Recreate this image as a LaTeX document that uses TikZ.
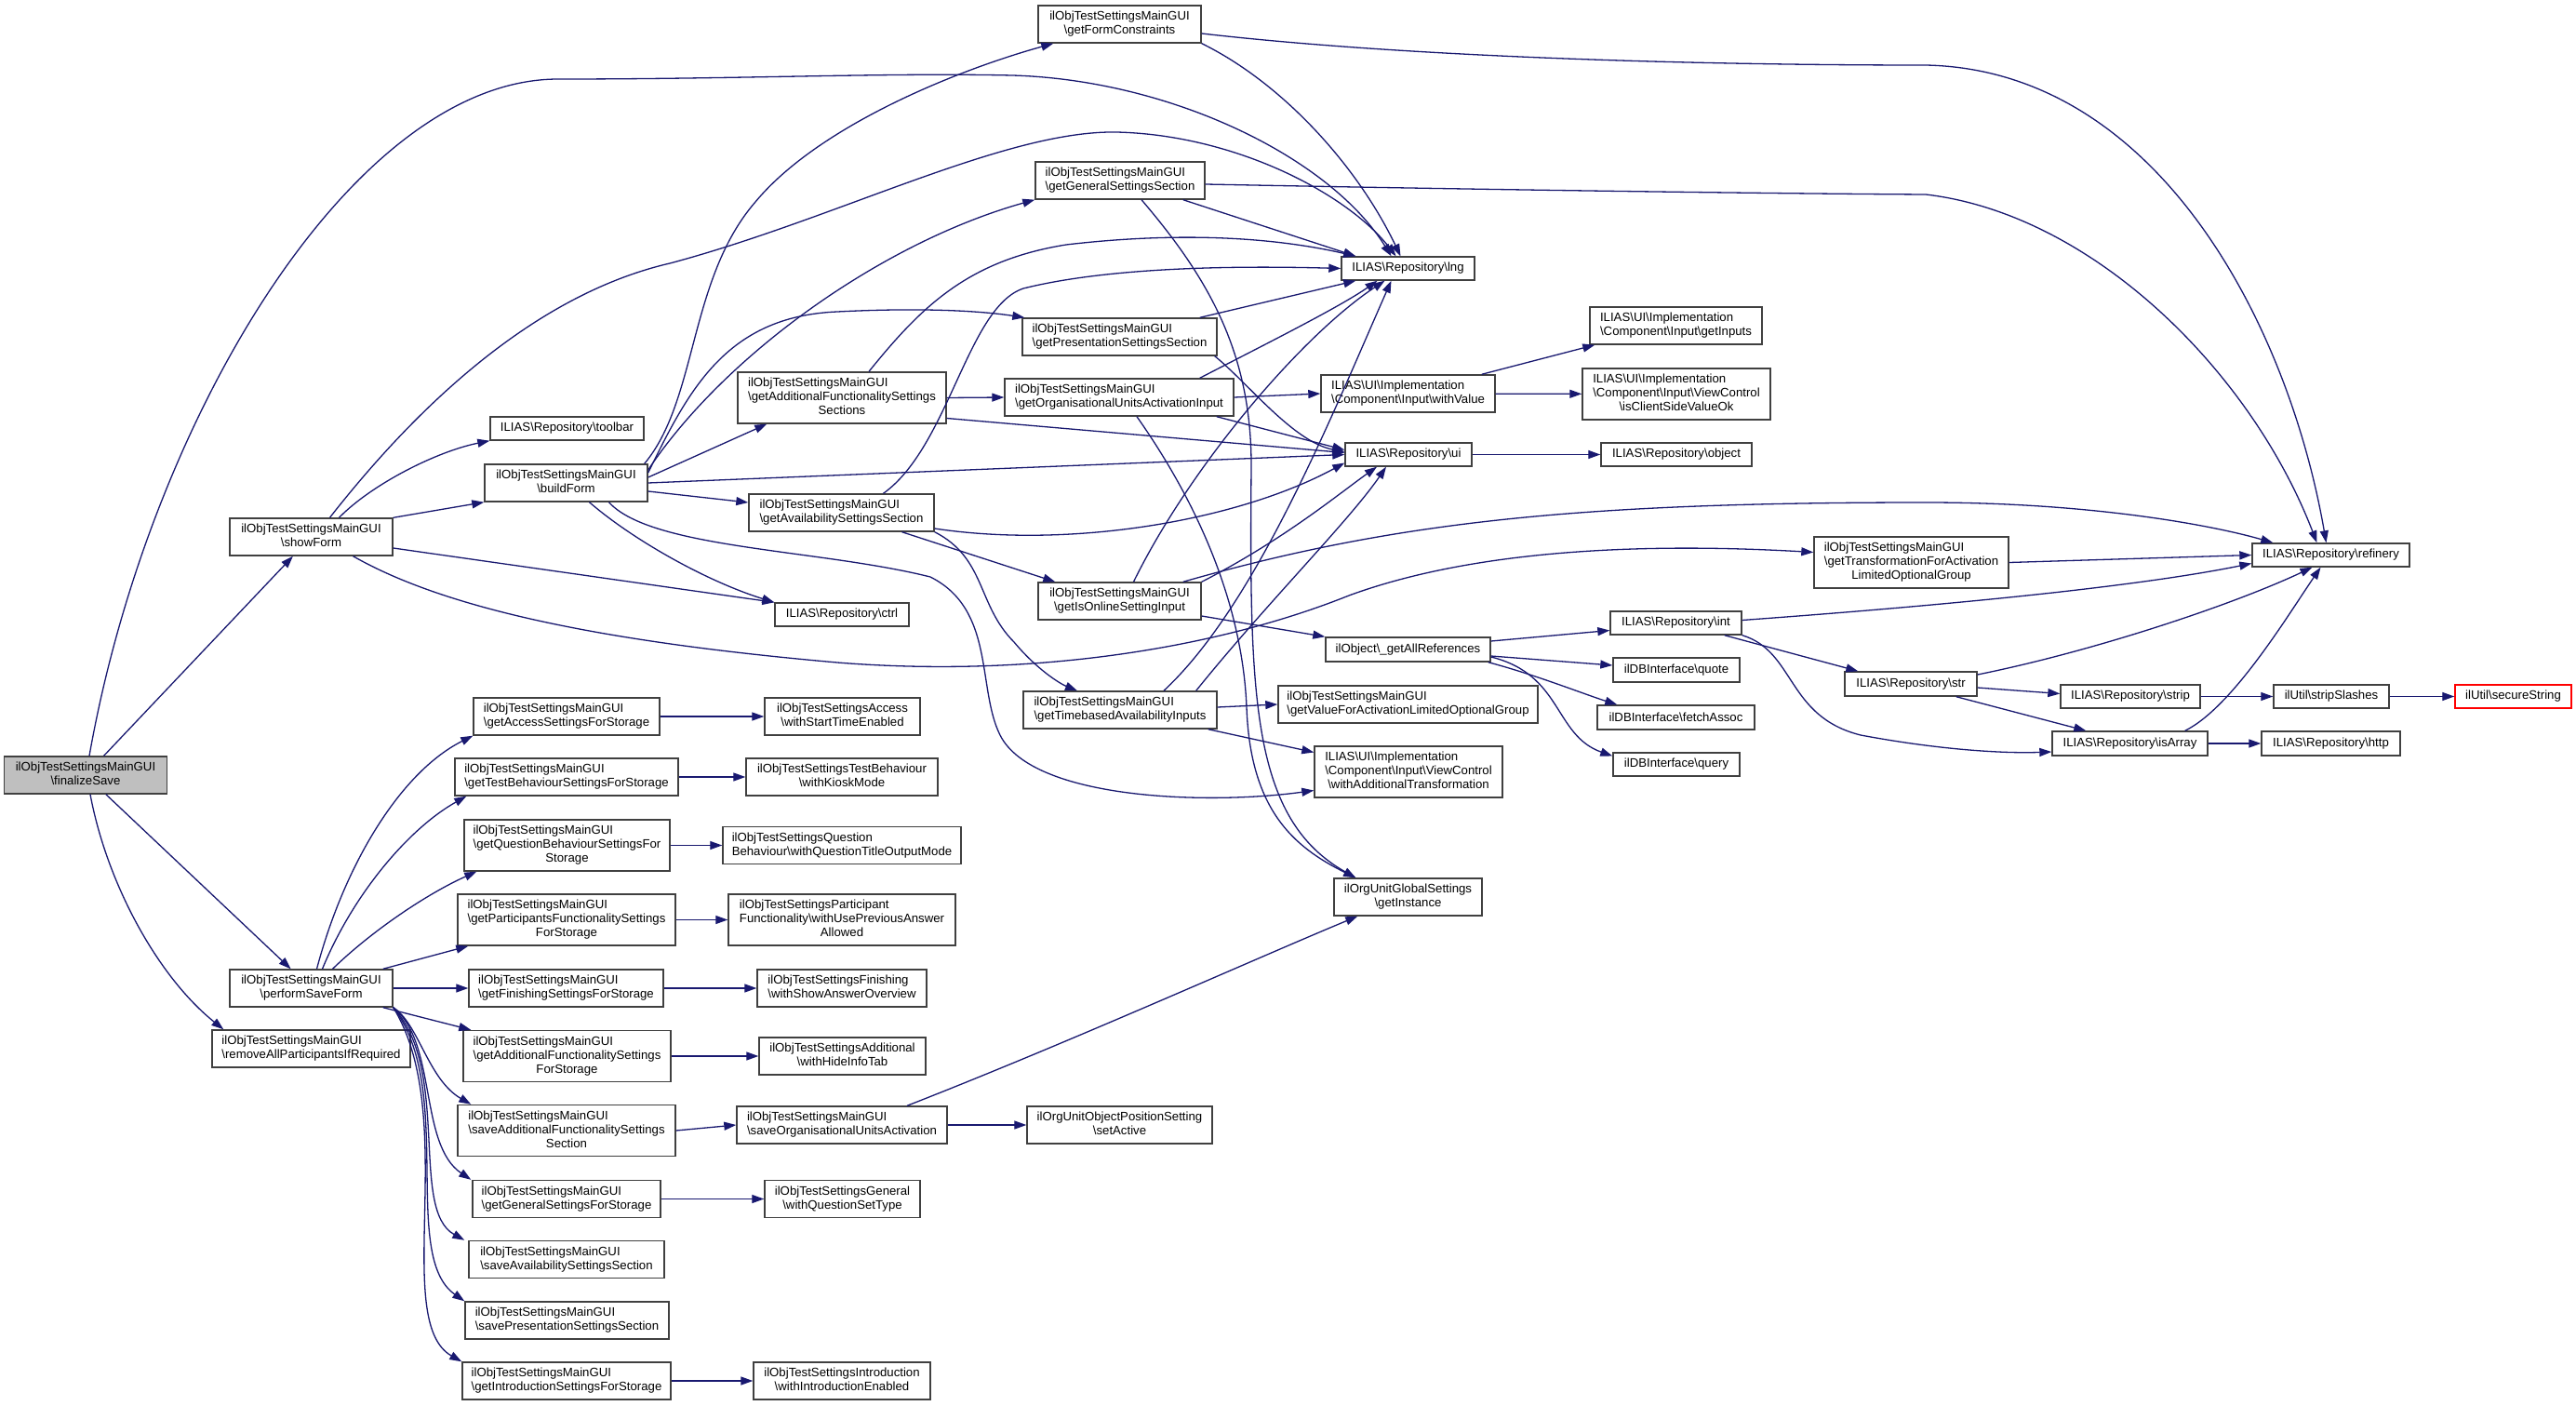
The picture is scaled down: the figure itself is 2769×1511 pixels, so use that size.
\documentclass[tikz,border=0pt]{standalone}
\usepackage{fontspec}
\setmainfont{Liberation Sans}
\usetikzlibrary{arrows.meta}

\definecolor{edgeblue}{RGB}{25,25,112}
\definecolor{boxgray}{RGB}{64,64,64}
\newcommand{\bsl}{\textbackslash}
\newcommand{\fnlabel}[2]{\begin{tabular}{@{}l@{}}#1\\\multicolumn{1}{@{}c@{}}{#2}\end{tabular}}

\begin{document}
\begin{tikzpicture}[x=1pt,y=-1pt,
    fnbox/.style={draw=boxgray,line width=1.4pt,fill=white,inner sep=0pt,font=\fontsize{13.2}{15}\selectfont},
    call/.style={draw=edgeblue,line width=1.3pt,->,>={Triangle[length=13pt,width=9pt]}}]

  \fill [white] (0,0) rectangle (2769,1511);
  \useasboundingbox (0,0) rectangle (2769,1511);

  % callers on the left
  \node [fnbox,fill=black!25,minimum width=175,minimum height=40] (finalizeSave) at (92,833) {\fnlabel{ilObjTestSettingsMainGUI}{\bsl finalizeSave}};
  \node [fnbox,minimum width=175,minimum height=40] (showForm) at (334.5,577) {\fnlabel{ilObjTestSettingsMainGUI}{\bsl showForm}};
  \node [fnbox,minimum width=175,minimum height=40] (performSaveForm) at (334.5,1062) {\fnlabel{ilObjTestSettingsMainGUI}{\bsl performSaveForm}};
  \node [fnbox,minimum width=213,minimum height=40] (removeAll) at (334.5,1127) {\fnlabel{ilObjTestSettingsMainGUI}{\bsl removeAllParticipantsIfRequired}};

  % form building
  \node [fnbox,minimum width=175,minimum height=40] (buildForm) at (608.5,519) {\fnlabel{ilObjTestSettingsMainGUI}{\bsl buildForm}};
  \node [fnbox,minimum width=165,minimum height=25] (toolbar) at (609.5,460.5) {ILIAS\bsl Repository\bsl toolbar};
  \node [fnbox,minimum width=144,minimum height=25] (ctrl) at (905,660.5) {ILIAS\bsl Repository\bsl ctrl};
  \node [fnbox,minimum width=175,minimum height=40] (getFormConstraints) at (1203.5,26) {\fnlabel{ilObjTestSettingsMainGUI}{\bsl getFormConstraints}};
  \node [fnbox,minimum width=182,minimum height=40] (getGeneralSS) at (1204,194) {\fnlabel{ilObjTestSettingsMainGUI}{\bsl getGeneralSettingsSection}};
  \node [fnbox,minimum width=209,minimum height=40] (getPresentationSS) at (1203.5,362) {\fnlabel{ilObjTestSettingsMainGUI}{\bsl getPresentationSettingsSection}};
  \node [fnbox,minimum width=224,minimum height=55] (getAddFuncSections) at (905,427.5) {\fnlabel{ilObjTestSettingsMainGUI\\\bsl getAdditionalFunctionalitySettings}{Sections}};
  \node [fnbox,minimum width=246,minimum height=40] (getOrgUnitsInput) at (1203,427) {\fnlabel{ilObjTestSettingsMainGUI}{\bsl getOrganisationalUnitsActivationInput}};
  \node [fnbox,minimum width=199,minimum height=40] (getAvailabilitySS) at (904.5,551) {\fnlabel{ilObjTestSettingsMainGUI}{\bsl getAvailabilitySettingsSection}};
  \node [fnbox,minimum width=175,minimum height=40] (getIsOnline) at (1203.5,646) {\fnlabel{ilObjTestSettingsMainGUI}{\bsl getIsOnlineSettingInput}};
  \node [fnbox,minimum width=208,minimum height=40] (getTimebased) at (1204,763) {\fnlabel{ilObjTestSettingsMainGUI}{\bsl getTimebasedAvailabilityInputs}};

  % repository and ui
  \node [fnbox,minimum width=143,minimum height=25] (lng) at (1513.5,288.5) {ILIAS\bsl Repository\bsl lng};
  \node [fnbox,minimum width=187,minimum height=40] (withValue) at (1513.5,423) {\fnlabel{ILIAS\bsl UI\bsl Implementation}{\bsl Component\bsl Input\bsl withValue}};
  \node [fnbox,minimum width=136,minimum height=25] (ui) at (1514,488.5) {ILIAS\bsl Repository\bsl ui};
  \node [fnbox,minimum width=279,minimum height=40] (getValueForActivation) at (1513.5,757) {\fnlabel{ilObjTestSettingsMainGUI}{\bsl getValueForActivationLimitedOptionalGroup}};
  \node [fnbox,minimum width=202,minimum height=55] (withAddTrans) at (1514,829.5) {\fnlabel{ILIAS\bsl UI\bsl Implementation\\\bsl Component\bsl Input\bsl ViewControl}{\bsl withAdditionalTransformation}};
  \node [fnbox,minimum width=159,minimum height=40] (getInstance) at (1513.5,964) {\fnlabel{ilOrgUnitGlobalSettings}{\bsl getInstance}};
  \node [fnbox,minimum width=177,minimum height=26] (getAllReferences) at (1513.5,698) {ilObject\bsl\_getAllReferences};
  \node [fnbox,minimum width=185,minimum height=40] (getInputs) at (1801.5,350) {\fnlabel{ILIAS\bsl UI\bsl Implementation}{\bsl Component\bsl Input\bsl getInputs}};
  \node [fnbox,minimum width=202,minimum height=55] (isClientSideOk) at (1802,423.5) {\fnlabel{ILIAS\bsl UI\bsl Implementation\\\bsl Component\bsl Input\bsl ViewControl}{\bsl isClientSideValueOk}};
  \node [fnbox,minimum width=162,minimum height=25] (object) at (1802,488.5) {ILIAS\bsl Repository\bsl object};
  \node [fnbox,minimum width=141,minimum height=25] (int) at (1801.5,669.5) {ILIAS\bsl Repository\bsl int};
  \node [fnbox,minimum width=136,minimum height=26] (quote) at (1802,720) {ilDBInterface\bsl quote};
  \node [fnbox,minimum width=169,minimum height=26] (fetchAssoc) at (1801.5,771) {ilDBInterface\bsl fetchAssoc};
  \node [fnbox,minimum width=136,minimum height=25] (query) at (1802,821.5) {ilDBInterface\bsl query};
  \node [fnbox,minimum width=209,minimum height=55] (getTransformation) at (2054.5,604.5) {\fnlabel{ilObjTestSettingsMainGUI\\\bsl getTransformationForActivation}{LimitedOptionalGroup}};
  \node [fnbox,minimum width=142,minimum height=26] (str) at (2054,735) {ILIAS\bsl Repository\bsl str};
  \node [fnbox,minimum width=169,minimum height=25] (refinery) at (2505.5,596.5) {ILIAS\bsl Repository\bsl refinery};
  \node [fnbox,minimum width=150,minimum height=25] (strip) at (2290,748.5) {ILIAS\bsl Repository\bsl strip};
  \node [fnbox,minimum width=167,minimum height=26] (isArray) at (2289.5,799) {ILIAS\bsl Repository\bsl isArray};
  \node [fnbox,minimum width=124,minimum height=25] (stripSlashes) at (2506,748.5) {ilUtil\bsl stripSlashes};
  \node [fnbox,minimum width=149,minimum height=26] (http) at (2505.5,799) {ILIAS\bsl Repository\bsl http};
  \node [fnbox,draw=red,minimum width=125,minimum height=25] (secureString) at (2701.5,748.5) {ilUtil\bsl secureString};

  % saving
  \node [fnbox,minimum width=200,minimum height=40] (getAccess) at (609,770) {\fnlabel{ilObjTestSettingsMainGUI}{\bsl getAccessSettingsForStorage}};
  \node [fnbox,minimum width=167,minimum height=40] (withStartTime) at (905.5,770) {\fnlabel{ilObjTestSettingsAccess}{\bsl withStartTimeEnabled}};
  \node [fnbox,minimum width=240,minimum height=40] (getTestBehaviour) at (609,835) {\fnlabel{ilObjTestSettingsMainGUI}{\bsl getTestBehaviourSettingsForStorage}};
  \node [fnbox,minimum width=206,minimum height=40] (withKioskMode) at (905,835) {\fnlabel{ilObjTestSettingsTestBehaviour}{\bsl withKioskMode}};
  \node [fnbox,minimum width=221,minimum height=55] (getQuestionBehaviour) at (609.5,908.5) {\fnlabel{ilObjTestSettingsMainGUI\\\bsl getQuestionBehaviourSettingsFor}{Storage}};
  \node [fnbox,minimum width=256,minimum height=40] (withTitleOutput) at (905,908.5) {\fnlabel{ilObjTestSettingsQuestion}{Behaviour\bsl withQuestionTitleOutputMode}};
  \node [fnbox,minimum width=234,minimum height=55] (getParticipants) at (609,988.5) {\fnlabel{ilObjTestSettingsMainGUI\\\bsl getParticipantsFunctionalitySettings}{ForStorage}};
  \node [fnbox,minimum width=244,minimum height=55] (withUsePrevious) at (905,988.5) {\fnlabel{ilObjTestSettingsParticipant\\Functionality\bsl withUsePreviousAnswer}{Allowed}};
  \node [fnbox,minimum width=209,minimum height=40] (getFinishing) at (608.5,1062) {\fnlabel{ilObjTestSettingsMainGUI}{\bsl getFinishingSettingsForStorage}};
  \node [fnbox,minimum width=182,minimum height=40] (withShowAnswer) at (905,1062) {\fnlabel{ilObjTestSettingsFinishing}{\bsl withShowAnswerOverview}};
  \node [fnbox,minimum width=223,minimum height=55] (getAddFuncStorage) at (609.5,1135) {\fnlabel{ilObjTestSettingsMainGUI\\\bsl getAdditionalFunctionalitySettings}{ForStorage}};
  \node [fnbox,minimum width=179,minimum height=40] (withHideInfoTab) at (905.5,1135) {\fnlabel{ilObjTestSettingsAdditional}{\bsl withHideInfoTab}};
  \node [fnbox,minimum width=234,minimum height=55] (saveAddFunc) at (609,1215) {\fnlabel{ilObjTestSettingsMainGUI\\\bsl saveAdditionalFunctionalitySettings}{Section}};
  \node [fnbox,minimum width=226,minimum height=40] (saveOrgUnits) at (905,1209) {\fnlabel{ilObjTestSettingsMainGUI}{\bsl saveOrganisationalUnitsActivation}};
  \node [fnbox,minimum width=199,minimum height=40] (setActive) at (1203.5,1209) {\fnlabel{ilOrgUnitObjectPositionSetting}{\bsl setActive}};
  \node [fnbox,minimum width=202,minimum height=40] (getGeneralStorage) at (609,1288.5) {\fnlabel{ilObjTestSettingsMainGUI}{\bsl getGeneralSettingsForStorage}};
  \node [fnbox,minimum width=167,minimum height=40] (withQuestionSetType) at (905.5,1288.5) {\fnlabel{ilObjTestSettingsGeneral}{\bsl withQuestionSetType}};
  \node [fnbox,minimum width=210,minimum height=40] (saveAvailability) at (609,1353.5) {\fnlabel{ilObjTestSettingsMainGUI}{\bsl saveAvailabilitySettingsSection}};
  \node [fnbox,minimum width=219,minimum height=40] (savePresentation) at (609.5,1419) {\fnlabel{ilObjTestSettingsMainGUI}{\bsl savePresentationSettingsSection}};
  \node [fnbox,minimum width=224,minimum height=40] (getIntroduction) at (609,1484) {\fnlabel{ilObjTestSettingsMainGUI}{\bsl getIntroductionSettingsForStorage}};
  \node [fnbox,minimum width=190,minimum height=40] (withIntroduction) at (905,1484) {\fnlabel{ilObjTestSettingsIntroduction}{\bsl withIntroductionEnabled}};

  % straight calls
  \path [every edge/.style=call]
    (finalizeSave) edge (showForm)
    (finalizeSave) edge (performSaveForm)
    (showForm.north east) edge (buildForm.south west)
    ([yshift=-12pt]showForm.east) edge (ctrl.north west)
    (buildForm.east) edge (ui.west)
    ([yshift=-9pt]buildForm.east) edge ([yshift=11pt]getAvailabilitySS.west)
    ([yshift=6pt]buildForm.east) edge ([xshift=32pt]getAddFuncSections.south west)
    (getAddFuncSections.east) edge (getOrgUnitsInput.west)
    ([yshift=-22pt]getAddFuncSections.east) edge ([yshift=2pt]ui.west)
    (getOrgUnitsInput.east) edge (withValue.west)
    ([xshift=-19pt]getOrgUnitsInput.south east) edge ([yshift=5pt]ui.west)
    ([xshift=-24pt]getGeneralSS.south east) edge ([xshift=16pt]lng.north west)
    ([xshift=-19pt]getPresentationSS.north east) edge ([xshift=16pt]lng.south west)
    ([xshift=65pt]getAvailabilitySS.south) edge ([xshift=19pt]getIsOnline.north west)
    ([yshift=-16pt]getIsOnline.east) edge (getAllReferences.north west)
    ([yshift=3pt]getTimebased.east) edge (getValueForActivation.west)
    ([xshift=-10pt]getTimebased.south east) edge ([yshift=21pt]withAddTrans.west)
    (getTransformation.east) edge (refinery.west)
    ([xshift=-15pt]withValue.north east) edge ([xshift=6pt]getInputs.south west)
    (withValue) edge (isClientSideOk)
    (ui) edge (object)
    ([yshift=9pt]getAllReferences.east) edge ([yshift=-8pt]int.west)
    ([yshift=-7pt]getAllReferences.east) edge ([yshift=5pt]quote.west)
    ([xshift=-19pt]int.south east) edge ([xshift=15pt]str.north west)
    ([yshift=-4pt]str.east) edge ([yshift=3pt]strip.west)
    ([xshift=-23pt]str.south east) edge ([xshift=37pt]isArray.north west)
    (strip) edge (stripSlashes)
    (stripSlashes) edge (secureString)
    (isArray) edge (http);

  \path [every edge/.style=call]
    ([xshift=-11pt]performSaveForm.north east) edge ([xshift=12pt]getParticipants.south west)
    (performSaveForm.east) edge (getFinishing.west)
    ([xshift=-11pt]performSaveForm.south east) edge ([xshift=9pt]getAddFuncStorage.north west)
    (getAccess) edge (withStartTime)
    (getTestBehaviour) edge (withKioskMode)
    (getQuestionBehaviour) edge (withTitleOutput)
    (getParticipants) edge (withUsePrevious)
    (getFinishing) edge (withShowAnswer)
    (getAddFuncStorage) edge (withHideInfoTab)
    (saveAddFunc.east) edge (saveOrgUnits.west)
    (saveOrgUnits) edge (setActive)
    (getGeneralStorage) edge (withQuestionSetType)
    (getIntroduction) edge (withIntroduction);

  % curved calls
  \draw [call] ([xshift=4pt]finalizeSave.north) .. controls (160,450) and (380,85) .. (600,85)
    .. controls (800,85) and (950,78) .. (1088,81) .. controls (1260,86) and (1430,170) .. ([xshift=-18pt]lng.north);
  \draw [call] ([xshift=5pt]finalizeSave.south) .. controls (115,950) and (170,1050) .. ([xshift=13pt]removeAll.north west);
  \draw [call] ([xshift=30pt]showForm.north) .. controls (400,520) and (470,485) .. (toolbar.south west);
  \draw [call] ([xshift=20pt]showForm.north) .. controls (430,460) and (560,320) .. (720,283)
    .. controls (900,235) and (1080,140) .. (1200,142) .. controls (1330,145) and (1450,210) .. ([xshift=-13pt]lng.north);
  \draw [call] ([xshift=45pt]showForm.south) .. controls (480,655) and (650,690) .. (900,712)
    .. controls (1100,728) and (1300,700) .. (1450,640) .. controls (1600,585) and (1800,585) .. ([yshift=11pt]getTransformation.west);

  \draw [call] ([xshift=-4pt]buildForm.north east) .. controls (750,430) and (740,300) .. (812,217)
    .. controls (880,135) and (1030,75) .. ([xshift=17pt]getFormConstraints.south west);
  \draw [call] ([yshift=14pt]buildForm.east) .. controls (780,380) and (950,260) .. (getGeneralSS.south west);
  \draw [call] ([yshift=11pt]buildForm.east) .. controls (740,420) and (780,340) .. (900,335)
    .. controls (1000,330) and (1060,335) .. ([xshift=3pt]getPresentationSS.north west);
  \draw [call] ([xshift=46pt]buildForm.south) .. controls (700,590) and (880,590) .. (1000,620)
    .. controls (1070,655) and (1050,740) .. (1075,790) .. controls (1110,860) and (1300,865) .. ([yshift=-20pt]withAddTrans.west);
  \draw [call] ([xshift=25pt]buildForm.south) .. controls (680,580) and (760,625) .. (ctrl.north west);

  \draw [call] ([xshift=29pt]getAddFuncSections.north) .. controls (990,330) and (1040,280) .. (1146,263)
    .. controls (1300,245) and (1400,262) .. ([xshift=16pt]lng.north west);
  \draw [call] ([xshift=-37pt]getOrgUnitsInput.north east) .. controls (1360,370) and (1440,330) .. ([xshift=-33pt]lng.south);
  \draw [call] ([xshift=19pt]getOrgUnitsInput.south) .. controls (1280,530) and (1335,640) .. (1340,760)
    .. controls (1344,870) and (1390,910) .. ([xshift=24pt]getInstance.north west);

  \draw [call] ([yshift=-10pt]getFormConstraints.east) .. controls (1500,60) and (1800,70) .. (2070,70)
    .. controls (2320,75) and (2460,350) .. ([xshift=-5pt]refinery.north);
  \draw [call] (getFormConstraints.south east) .. controls (1380,90) and (1460,180) .. ([xshift=-8pt]lng.north);
  \draw [call] ([yshift=-4pt]getGeneralSS.east) .. controls (1600,204) and (1900,208) .. (2070,209)
    .. controls (2250,230) and (2420,400) .. ([xshift=-15pt]refinery.north);
  \draw [call] ([xshift=23pt]getGeneralSS.south) .. controls (1300,300) and (1345,380) .. (1345,500)
    .. controls (1343,750) and (1345,880) .. ([xshift=24pt]getInstance.north west);
  \draw [call] ([xshift=-3pt]getPresentationSS.south east) .. controls (1340,410) and (1390,475) .. ([yshift=3pt]ui.west);

  \draw [call] ([xshift=45pt]getAvailabilitySS.north) .. controls (1020,480) and (1040,330) .. (1100,310)
    .. controls (1200,285) and (1350,286) .. (lng.west);
  \draw [call] ([yshift=-17pt]getAvailabilitySS.east) .. controls (1150,590) and (1330,560) .. ([yshift=-9pt]ui.west);
  \draw [call] (getAvailabilitySS.south east) .. controls (1060,600) and (1050,650) .. (1090,690)
    .. controls (1115,720) and (1140,735) .. ([xshift=-46pt]getTimebased.north);

  \draw [call] ([xshift=15pt]getIsOnline.north) .. controls (1280,500) and (1400,360) .. ([xshift=-25pt]lng.south);
  \draw [call] (getIsOnline.north east) .. controls (1380,580) and (1440,530) .. ([xshift=-34pt]ui.south);
  \draw [call] ([xshift=-20pt]getIsOnline.north east) .. controls (1500,560) and (1700,540) .. (2070,540)
    .. controls (2250,540) and (2380,565) .. ([xshift=23pt]refinery.north west);
  \draw [call] ([xshift=47pt]getTimebased.north) .. controls (1350,650) and (1430,450) .. ([xshift=-18pt]lng.south);
  \draw [call] ([xshift=-23pt]getTimebased.north east) .. controls (1360,650) and (1450,560) .. ([xshift=-24pt]ui.south);

  \draw [call] ([xshift=-3pt]getAllReferences.south east) .. controls (1650,725) and (1700,745) .. ([xshift=22pt]fetchAssoc.north west);
  \draw [call] ([yshift=-8pt]getAllReferences.east) .. controls (1680,725) and (1670,790) .. ([yshift=9pt]query.west);
  \draw [call] ([yshift=3pt]int.east) .. controls (2100,650) and (2300,630) .. ([yshift=-9pt]refinery.west);
  \draw [call] (int.south east) .. controls (1930,700) and (1920,770) .. (2000,790)
    .. controls (2080,805) and (2150,810) .. ([yshift=-9pt]isArray.west);
  \draw [call] ([yshift=10pt]str.east) .. controls (2250,700) and (2400,650) .. ([xshift=-20pt]refinery.south);
  \draw [call] ([xshift=-25pt]isArray.north east) .. controls (2400,760) and (2460,660) .. ([xshift=-11pt]refinery.south);

  \draw [call] ([xshift=6pt]performSaveForm.north) .. controls (370,930) and (430,830) .. (getAccess.south west);
  \draw [call] ([xshift=12pt]performSaveForm.north) .. controls (380,960) and (440,890) .. ([xshift=13pt]getTestBehaviour.south west);
  \draw [call] ([xshift=23pt]performSaveForm.north) .. controls (400,1000) and (460,960) .. ([xshift=14pt]getQuestionBehaviour.south west);
  \draw [call] (performSaveForm.south east) .. controls (450,1100) and (460,1160) .. ([xshift=15pt]saveAddFunc.north west);
  \draw [call] (performSaveForm.south east) .. controls (470,1120) and (450,1230) .. ([xshift=-1pt]getGeneralStorage.north west);
  \draw [call] (performSaveForm.south east) .. controls (485,1150) and (440,1300) .. ([xshift=-4pt]saveAvailability.north west);
  \draw [call] (performSaveForm.south east) .. controls (490,1170) and (430,1350) .. (savePresentation.north west);
  \draw [call] (performSaveForm.south east) .. controls (495,1200) and (420,1420) .. (getIntroduction.north west);
  \draw [call] ([xshift=70pt]saveOrgUnits.north) .. controls (1150,1120) and (1350,1030) .. ([xshift=26pt]getInstance.south west);

\end{tikzpicture}
\end{document}
